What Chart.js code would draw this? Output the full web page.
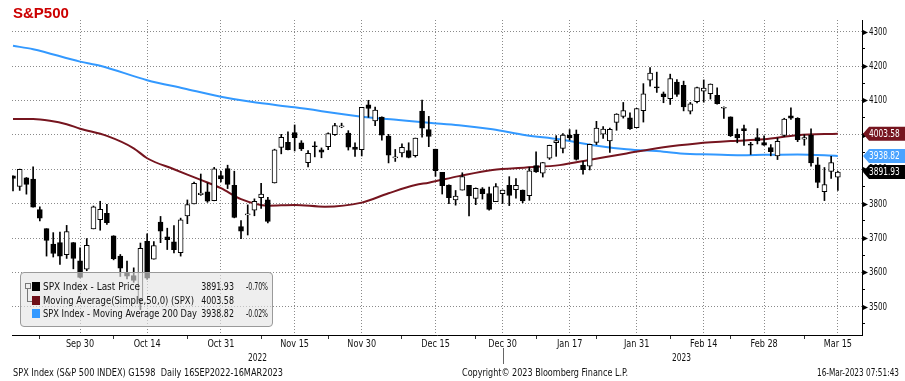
<!DOCTYPE html>
<html>
<head>
<meta charset="utf-8">
<script src="https://cdn.jsdelivr.net/npm/chart.js@4.4.1/dist/chart.umd.min.js"></script>
<style>
html, body { margin: 0; padding: 0; background: #fff; }
#wrap { position: relative; width: 905px; height: 381px; overflow: hidden;
        font-family: "DejaVu Sans Condensed", "DejaVu Sans", sans-serif; color: #111; }
#c { position: absolute; left: 0; top: 0; }
.t { position: absolute; white-space: nowrap; font-size: 11px; line-height: 13px; transform-origin: left center; }
.r { transform-origin: right center; }
#title { position: absolute; left: 13px; top: 5px; font: bold 15px/15px "Liberation Sans", Arial, sans-serif; color: #cc0000; }
#legend { position: absolute; left: 20px; top: 272px; width: 253px; height: 55px; box-sizing: border-box;
          border: 1px solid #9a9a9a; border-radius: 4px; background: rgba(228,228,228,0.62); }
#legend .sw { position: absolute; left: 11px; width: 8px; height: 9px; }
</style>
</head>
<body>
<div id="wrap">
  <canvas id="c" width="905" height="381"></canvas>
  <div id="title">S&amp;P500</div>

  <div id="legend">
    <div style="position:absolute;left:4px;top:10px;width:4px;height:4px;border:1px solid #777;"></div>
    <div style="position:absolute;left:6px;top:16px;width:4px;height:12px;border-left:1px solid #777;border-bottom:1px solid #777;"></div>
    <div class="sw" style="top:9px;background:#000;"></div>
    <div class="sw" style="top:23px;background:#6e1019;"></div>
    <div class="sw" style="top:36px;background:#3399ff;"></div>
    <div class="t" data-w="97" style="left:22px;top:7px;">SPX Index - Last Price</div>
    <div class="t" data-w="151" style="left:22px;top:21px;">Moving Average(Simple,50,0) (SPX)</div>
    <div class="t" data-w="154" style="left:22px;top:34px;">SPX Index - Moving Average 200 Day</div>
    <div class="t r" data-s="0.8" style="right:38px;top:7px;">3891.93</div>
    <div class="t r" data-s="0.8" style="right:38px;top:21px;">4003.58</div>
    <div class="t r" data-s="0.8" style="right:38px;top:34px;">3938.82</div>
    <div class="t" data-w="22" style="left:225px;top:7px;">-0.70%</div>
    <div class="t" data-w="22" style="left:225px;top:34px;">-0.02%</div>
  </div>

  <div class="t" data-w="19" style="left:248px;top:351px;">2022</div>
  <div class="t" data-w="19" style="left:672px;top:351px;">2023</div>
  <div class="t" data-w="270" style="left:13px;top:366px;">SPX Index (S&amp;P 500 INDEX) G1598&nbsp; Daily 16SEP2022-16MAR2023</div>
  <div class="t" data-w="166" style="left:462px;top:366px;">Copyright© 2023 Bloomberg Finance L.P.</div>
  <div class="t" data-w="82" style="left:817px;top:366px;">16-Mar-2023 07:51:43</div>
</div>

<script>
// daily candles, 16 Sep 2022 .. 15 Mar 2023 (trading days, x = day index)
const open = [
  3880.95, 3849.91, 3875.23, 3871.40, 3782.36, 3727.14, 3682.72, 3686.44, 3651.94, 3687.01,
  3633.48, 3609.78, 3726.46, 3753.25, 3771.97, 3706.74, 3647.51, 3598.09, 3590.83, 3520.37,
  3690.41, 3638.65, 3746.26, 3703.11, 3689.05, 3657.10, 3764.55, 3799.44, 3825.97, 3834.69,
  3808.26, 3881.85, 3901.79, 3852.90, 3733.25, 3766.98, 3780.71, 3817.02, 3810.94, 3859.89,
  3963.72, 3977.97, 4006.41, 3976.82, 3919.26, 3966.39, 3956.23, 3965.51, 4000.30, 4023.34,
  4005.36, 3964.19, 3957.18, 4087.14, 4040.17, 4052.02, 3996.63, 3933.28, 3947.79, 3954.17,
  3939.29, 4069.38, 4015.54, 3958.37, 3890.91, 3853.79, 3810.47, 3839.49, 3853.26, 3815.11,
  3843.34, 3829.56, 3805.45, 3829.06, 3853.29, 3840.36, 3839.74, 3823.37, 3910.82, 3888.57,
  3932.35, 3977.57, 3960.60, 3999.28, 4002.25, 3911.84, 3909.04, 3978.14, 4001.74, 3982.71,
  4036.08, 4053.72, 4049.27, 4020.85, 4070.07, 4158.68, 4136.69, 4119.57, 4105.35, 4153.47,
  4144.25, 4068.92, 4096.62, 4126.70, 4119.50, 4114.75, 4077.39, 4052.35, 4001.83, 4018.60,
  3973.24, 3992.36, 3977.19, 3963.34, 3938.68, 3998.02, 4055.15, 4048.26, 3987.55, 3998.66,
  3912.77, 3835.12, 3894.01, 3876.74
];
const high = [
  3880.95, 3900.45, 3876.01, 3907.07, 3790.44, 3727.14, 3715.67, 3717.53, 3736.74, 3687.01,
  3671.44, 3698.35, 3793.08, 3806.91, 3797.93, 3706.74, 3652.17, 3632.73, 3613.30, 3685.41,
  3712.00, 3689.73, 3762.79, 3728.58, 3736.00, 3757.89, 3810.74, 3862.85, 3886.15, 3859.95,
  3905.42, 3893.73, 3911.79, 3894.44, 3750.59, 3796.34, 3813.95, 3859.40, 3818.20, 3958.33,
  4001.48, 4008.97, 4028.84, 3983.09, 3954.33, 3979.89, 3962.00, 4005.88, 4033.78, 4034.02,
  4012.27, 3976.77, 4080.11, 4100.51, 4080.48, 4052.45, 4001.51, 3957.57, 3974.19, 3977.02,
  3990.71, 4100.96, 4053.76, 3958.37, 3890.91, 3854.86, 3838.24, 3889.82, 3853.26, 3845.80,
  3846.65, 3848.32, 3858.19, 3839.85, 3878.46, 3873.16, 3839.74, 3906.19, 3950.57, 3919.83,
  3970.07, 3997.76, 4003.95, 4015.39, 4014.16, 3922.94, 3972.96, 4039.31, 4023.92, 4019.55,
  4061.57, 4094.21, 4063.85, 4077.16, 4148.95, 4195.44, 4182.36, 4124.63, 4176.54, 4160.77,
  4156.23, 4094.36, 4138.90, 4159.77, 4148.11, 4136.54, 4081.51, 4052.35, 4017.37, 4028.30,
  3978.25, 4018.05, 3997.50, 3971.73, 3990.84, 4048.29, 4078.49, 4050.00, 4000.41, 4017.81,
  3934.05, 3905.05, 3937.29, 3894.26
];
const low = [
  3837.08, 3838.50, 3827.54, 3789.49, 3749.45, 3647.47, 3644.76, 3623.29, 3640.61, 3610.40,
  3584.13, 3604.93, 3726.46, 3722.66, 3739.22, 3636.52, 3588.10, 3580.74, 3571.24, 3491.58,
  3579.68, 3638.65, 3686.53, 3666.51, 3656.44, 3647.42, 3741.65, 3799.44, 3824.07, 3803.79,
  3808.26, 3863.18, 3843.80, 3758.68, 3698.15, 3708.84, 3764.70, 3786.28, 3744.22, 3859.89,
  3944.82, 3956.40, 3953.17, 3954.34, 3906.54, 3935.98, 3933.34, 3956.88, 3998.66, 4020.76,
  3955.77, 3937.65, 3938.58, 4050.87, 4026.63, 3984.49, 3918.39, 3922.68, 3935.83, 3933.04,
  3935.30, 3993.03, 3965.65, 3879.45, 3827.91, 3800.04, 3795.62, 3839.49, 3764.49, 3797.01,
  3813.22, 3780.78, 3805.45, 3800.34, 3794.33, 3815.77, 3802.42, 3809.56, 3890.42, 3877.29,
  3928.54, 3937.56, 3947.67, 3984.57, 3926.59, 3885.54, 3897.86, 3971.64, 3989.79, 3949.06,
  4013.29, 4048.70, 4015.55, 4020.44, 4037.20, 4141.88, 4123.36, 4093.38, 4088.39, 4111.86,
  4069.67, 4060.79, 4092.67, 4095.01, 4103.98, 4089.49, 4047.95, 3995.19, 3976.90, 3969.19,
  3943.08, 3973.55, 3968.98, 3939.05, 3928.16, 3995.17, 4044.61, 3980.31, 3969.76, 3908.70,
  3846.32, 3808.86, 3873.63, 3838.24
];
const close = [
  3873.33, 3899.89, 3855.93, 3789.93, 3757.99, 3693.23, 3655.04, 3647.29, 3719.04, 3640.47,
  3585.62, 3678.43, 3790.93, 3783.28, 3744.52, 3639.66, 3612.39, 3588.84, 3577.03, 3669.91,
  3583.07, 3677.95, 3719.98, 3695.16, 3665.78, 3752.75, 3797.34, 3859.11, 3830.60, 3807.30,
  3901.06, 3871.98, 3856.10, 3759.69, 3719.89, 3770.55, 3806.80, 3828.11, 3748.57, 3956.37,
  3992.93, 3957.25, 3991.73, 3958.79, 3946.56, 3965.34, 3949.94, 4003.58, 4027.26, 4026.12,
  3963.94, 3957.63, 4080.11, 4076.57, 4071.70, 3998.84, 3941.26, 3933.92, 3963.51, 3934.38,
  3990.56, 4019.65, 3995.32, 3895.75, 3852.36, 3817.66, 3821.62, 3878.44, 3822.39, 3844.82,
  3829.25, 3783.22, 3849.28, 3839.50, 3824.14, 3852.97, 3808.10, 3895.08, 3892.09, 3919.25,
  3969.61, 3983.17, 3999.09, 3990.97, 3928.86, 3898.85, 3972.61, 4019.81, 4016.95, 4016.22,
  4060.43, 4070.56, 4017.77, 4076.60, 4119.21, 4179.76, 4136.48, 4111.08, 4164.00, 4117.86,
  4081.50, 4090.46, 4137.29, 4136.13, 4147.60, 4090.41, 4079.09, 3997.34, 3991.05, 4012.32,
  3970.04, 3982.24, 3970.15, 3951.39, 3981.35, 4045.64, 4048.42, 3986.37, 3992.01, 3918.32,
  3861.59, 3855.76, 3919.29, 3891.93
];

// moving averages at these day indexes
const ma50Idx = [0, 3, 5.5, 8, 10, 14, 18, 20, 24, 28, 31, 34, 38, 42, 46.5, 52, 56, 60, 62, 66.5, 71.5, 76.5, 81.5, 86.5, 91.5, 97, 102, 107, 112, 117, 123];
const ma50Val = [4046, 4046, 4041, 4031, 4018, 3997, 3961, 3932, 3900, 3869, 3845, 3813, 3794, 3796, 3791, 3803, 3830, 3854, 3861, 3880, 3898, 3905, 3912, 3929, 3946, 3964, 3975, 3982, 3987, 3999, 4003.58];
const ma200Idx = [0, 3, 10, 13, 20, 25.5, 31, 35.5, 42, 52, 57.5, 62, 66.5, 71.5, 76.5, 81.5, 86.5, 91.5, 97, 99.5, 104.5, 108.5, 112, 117, 123];
const ma200Val = [4259, 4249, 4213, 4201, 4159, 4135, 4111, 4096, 4080, 4053, 4043, 4035, 4028, 4016, 3999, 3987, 3970, 3958, 3951, 3946, 3943, 3941, 3942, 3943, 3938.82];

// x axis
const tickIdx = [10, 20, 31, 42, 52, 63, 73, 83, 93, 103, 112, 123];
const tickLabels = ['Sep 30', 'Oct 14', 'Oct 31', 'Nov 15', 'Nov 30', 'Dec 15', 'Dec 30', 'Jan 17', 'Jan 31', 'Feb 14', 'Feb 28', 'Mar 15'];
const minorIdx = [4, 15, 26, 37, 47, 58, 69, 78, 87, 98, 107, 118];
const yearBreak = 73;
// y axis
const priceTicks = [3500, 3600, 3700, 3800, 3900, 4000, 4100, 4200, 4300];

// last values shown in tags on the price axis
const tags = [
    { value: 4003.58, bg: '#76151f', fg: '#fff' },
    { value: 3938.82, bg: '#4aa3ff', fg: '#fff' },
    { value: 3891.93, bg: '#000', fg: '#fff' },
];

const FONT = '"DejaVu Sans Condensed", "DejaVu Sans", sans-serif';

// squeeze the html texts to the narrow width of the original font
document.querySelectorAll('[data-w]').forEach(el => {
    el.style.transform = 'scaleX(' + (+el.dataset.w / el.getBoundingClientRect().width) + ')';
});
document.querySelectorAll('[data-s]').forEach(el => {
    el.style.transform = 'scaleX(' + el.dataset.s + ')';
});

const bodies = open.map((o, i) => ({ x: i, y: [o, close[i]] }));
const wicks = low.map((l, i) => ({ x: i, y: [l, high[i]] }));
const up = open.map((o, i) => close[i] >= o);

function narrowText(ctx, text, x, y, s, align) {
    ctx.save();
    ctx.translate(x, y);
    ctx.scale(s, 1);
    ctx.textAlign = align;
    ctx.fillText(text, 0, 0);
    ctx.restore();
}

const extras = {
    id: 'extras',
    afterDraw(chart) {
        const { ctx, chartArea: a } = chart;
        const x = chart.scales.x, y = chart.scales.y;
        ctx.save();
        ctx.font = '11px ' + FONT;
        ctx.textBaseline = 'middle';

        // price labels with little arrows
        priceTicks.forEach(v => {
            const py = Math.round(y.getPixelForValue(v)) + 0.5;
            ctx.fillStyle = '#000';
            ctx.beginPath();
            ctx.moveTo(a.right, py - 3);
            ctx.lineTo(a.right + 6, py);
            ctx.lineTo(a.right, py + 3);
            ctx.closePath();
            ctx.fill();
            ctx.fillStyle = '#111';
            narrowText(ctx, String(v), a.right + 7, py, 0.72, 'left');
        });

        // date labels
        ctx.fillStyle = '#111';
        tickIdx.forEach((d, k) => {
            narrowText(ctx, tickLabels[k], x.getPixelForValue(d), a.bottom + 9.5, 0.82, 'center');
        });

        // year separator under the axis
        const sx = Math.round(x.getPixelForValue(yearBreak)) + 0.5;
        ctx.strokeStyle = '#666';
        ctx.lineWidth = 1;
        ctx.beginPath();
        ctx.moveTo(sx, a.bottom + 13);
        ctx.lineTo(sx, a.bottom + 29);
        ctx.stroke();

        // value tags
        tags.forEach(t => {
            const py = y.getPixelForValue(t.value);
            ctx.fillStyle = t.bg;
            ctx.beginPath();
            ctx.moveTo(a.right + 1, py);
            ctx.lineTo(a.right + 7, py - 7);
            ctx.lineTo(chart.width, py - 7);
            ctx.lineTo(chart.width, py + 7);
            ctx.lineTo(a.right + 7, py + 7);
            ctx.closePath();
            ctx.fill();
            ctx.fillStyle = t.fg;
            narrowText(ctx, t.value.toFixed(2), a.right + 7, py + 0.5, 0.75, 'left');
        });
        ctx.restore();
    }
};

new Chart(document.getElementById('c'), {
    type: 'bar',
    data: {
        datasets: [
            {
                type: 'line',
                label: 'MA 200',
                data: ma200Idx.map((d, i) => ({ x: d, y: ma200Val[i] })),
                borderColor: '#3399ff',
                borderWidth: 2,
                pointRadius: 0,
                cubicInterpolationMode: 'monotone',
                order: 4,
            },
            {
                type: 'line',
                label: 'MA 50',
                data: ma50Idx.map((d, i) => ({ x: d, y: ma50Val[i] })),
                borderColor: '#76151f',
                borderWidth: 2,
                pointRadius: 0,
                cubicInterpolationMode: 'monotone',
                order: 3,
            },
            {
                label: 'wick',
                data: wicks,
                backgroundColor: '#000',
                barThickness: 1,
                grouped: false,
                borderSkipped: false,
                order: 2,
            },
            {
                label: 'body',
                data: bodies,
                backgroundColor: up.map(u => u ? '#fff' : '#000'),
                borderColor: '#000',
                borderWidth: 1,
                borderSkipped: false,
                barThickness: 5,
                minBarLength: 1,
                grouped: false,
                order: 1,
            },
        ],
    },
    options: {
        responsive: false,
        animation: false,
        events: [],
        layout: { padding: { left: 12, top: 20, right: 0, bottom: 0 } },
        plugins: { legend: { display: false }, tooltip: { enabled: false } },
        scales: {
            x: {
                type: 'linear',
                min: -0.15,
                max: 126.6,
                offset: false,
                afterBuildTicks: s => {
                    s.ticks = tickIdx.concat(minorIdx).sort((p, q) => p - q).map(v => ({ value: v }));
                },
                afterFit: s => { s.height = 46; },
                ticks: { display: false },
                grid: {
                    offset: false,
                    color: c => tickIdx.includes(c.tick && c.tick.value) ? '#8a8a8a' : 'rgba(0,0,0,0)',
                    tickColor: c => tickIdx.includes(c.tick && c.tick.value) ? 'rgba(0,0,0,0)' : '#333',
                    tickLength: 4,
                },
                border: { display: true, color: '#000', dash: [1, 2] },
            },
            y: {
                position: 'right',
                min: 3418,
                max: 4334,
                beginAtZero: false,
                afterFit: s => { s.width = 43; },
                ticks: { stepSize: 50, includeBounds: false, display: false },
                grid: {
                    color: c => c.tick && c.tick.value % 100 === 0 ? '#8a8a8a' : 'rgba(0,0,0,0)',
                    tickColor: '#000',
                    tickLength: 3,
                },
                border: { display: true, color: '#000', dash: [1, 2] },
            },
        },
    },
    plugins: [extras],
});
</script>
</body>
</html>
